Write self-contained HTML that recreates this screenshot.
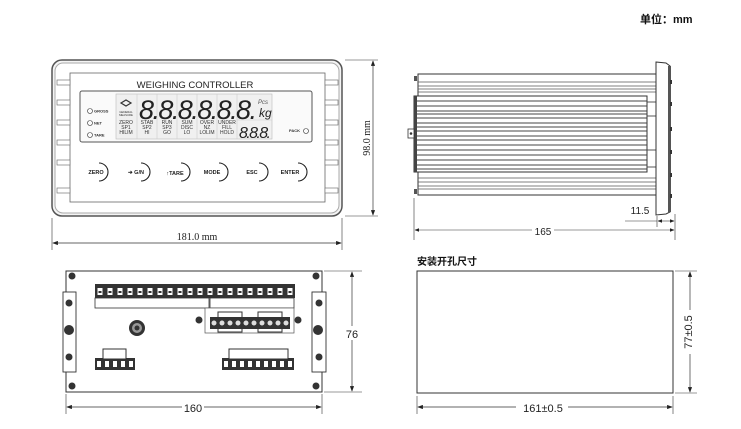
<!DOCTYPE html>
<html><head><meta charset="utf-8"><style>
html,body{margin:0;padding:0;background:#fff;}
svg{display:block;}
text{font-family:"Liberation Sans","Noto Sans CJK SC",sans-serif;}
</style></head><body>
<svg width="741" height="429" viewBox="0 0 741 429" xmlns="http://www.w3.org/2000/svg">
<defs>
<marker id="a" markerWidth="8" markerHeight="6" refX="7" refY="3" orient="auto-start-reverse"><path d="M0,0 L8,3 L0,6z" fill="#222"/></marker>
<pattern id="slot" x="95" y="284" width="10" height="14" patternUnits="userSpaceOnUse"><rect width="10" height="14" fill="#333"/><rect x="2.5" y="4" width="5" height="7" fill="#fff"/><rect x="3.5" y="7" width="3" height="2" fill="#333"/></pattern>
<pattern id="slot2" x="95" y="358" width="8" height="12" patternUnits="userSpaceOnUse"><rect width="8" height="12" fill="#333"/><rect x="2" y="3" width="4" height="6" fill="#fff"/></pattern>
<pattern id="slot3" x="222" y="358" width="8" height="12" patternUnits="userSpaceOnUse"><rect width="8" height="12" fill="#333"/><rect x="2" y="3" width="4" height="6" fill="#fff"/></pattern>
</defs>
<text x="640" y="23" font-size="11" font-weight="bold" fill="#111">单位：mm</text>

<!-- front panel -->
<rect x="52" y="60" width="290" height="156" rx="10" fill="#f4f4f4" stroke="#555" stroke-width="1.5"/>
<rect x="55" y="63" width="284" height="150" rx="8" fill="#fff" stroke="#aaa" stroke-width="1"/>
<rect x="70" y="73" width="255" height="129" fill="#fff" stroke="#666" stroke-width="0.8"/>
<g fill="#fff" stroke="#777" stroke-width="0.7">
<rect x="57" y="80" width="13" height="5"/><rect x="57" y="100" width="13" height="5"/><rect x="57" y="120" width="13" height="5"/><rect x="57" y="140" width="13" height="5"/><rect x="57" y="160" width="13" height="5"/><rect x="57" y="188" width="13" height="5"/>
<rect x="325" y="80" width="13" height="5"/><rect x="325" y="100" width="13" height="5"/><rect x="325" y="120" width="13" height="5"/><rect x="325" y="140" width="13" height="5"/><rect x="325" y="160" width="13" height="5"/><rect x="325" y="188" width="13" height="5"/>
</g>
<text x="195" y="88" font-size="9.5" text-anchor="middle" fill="#222">WEIGHING CONTROLLER</text>
<rect x="80" y="91" width="232" height="51" rx="2" fill="#fafafa" stroke="#555" stroke-width="1"/>
<rect x="116" y="94" width="156" height="45" fill="#f0f0f0" stroke="#bbb" stroke-width="0.6"/>
<g stroke="#ccc" stroke-width="0.6"><line x1="137" y1="94" x2="137" y2="139"/><line x1="157" y1="94" x2="157" y2="139"/><line x1="177" y1="94" x2="177" y2="139"/><line x1="197" y1="94" x2="197" y2="139"/><line x1="217" y1="94" x2="217" y2="139"/><line x1="237" y1="94" x2="237" y2="139"/><line x1="237" y1="120" x2="272" y2="120"/></g>
<g font-size="4" fill="#333" font-weight="bold">
<circle cx="90" cy="111" r="2.5" fill="none" stroke="#333" stroke-width="0.6"/><text x="94" y="112.5">GROSS</text>
<circle cx="90" cy="123" r="2.5" fill="none" stroke="#333" stroke-width="0.6"/><text x="94" y="124.5">NET</text>
<circle cx="90" cy="135" r="2.5" fill="none" stroke="#333" stroke-width="0.6"/><text x="94" y="136.5">TARE</text>
<text x="289" y="132">PACK</text><circle cx="306" cy="131" r="2.5" fill="none" stroke="#333" stroke-width="0.6"/>
</g>
<path d="M121,103 l5,-3 l5,3 l-5,3z" fill="none" stroke="#333" stroke-width="1.2"/>
<text x="126" y="113" font-size="2.8" text-anchor="middle" fill="#333">GENERAL</text><text x="126" y="116" font-size="2.8" text-anchor="middle" fill="#333">MEASURE</text>
<text x="139" y="119" font-size="27" font-style="italic" fill="#222" textLength="118" lengthAdjust="spacing">8.8.8.8.8.8.</text>
<text x="258" y="104" font-size="6" fill="#555" font-style="italic">Pcs</text>
<text x="259" y="117" font-size="12" fill="#222" font-style="italic">kg</text>
<text x="239" y="138" font-size="16" font-style="italic" fill="#222" textLength="32" lengthAdjust="spacing">8.8.8.</text>
<g font-size="5" text-anchor="middle" fill="#333">
<text x="126" y="124">ZERO</text><text x="126" y="129">SP1</text><text x="126" y="134">HILIM</text>
<text x="147" y="124">STAB</text><text x="147" y="129">SP2</text><text x="147" y="134">HI</text>
<text x="167" y="124">RUN</text><text x="167" y="129">SP3</text><text x="167" y="134">GO</text>
<text x="187" y="124">SUM</text><text x="187" y="129">DISC</text><text x="187" y="134">LO</text>
<text x="207" y="124">OVER</text><text x="207" y="129">NZ</text><text x="207" y="134">LOLIM</text>
<text x="227" y="124">UNDER</text><text x="227" y="129">FILL</text><text x="227" y="134">HOLD</text>
</g>
<g fill="none" stroke="#222" stroke-width="1.1">
<path d="M99,163 a9,9 0 0 1 0,18"/><path d="M141,163 a9,9 0 0 1 0,18"/><path d="M181,163 a9,9 0 0 1 0,18"/><path d="M219,163 a9,9 0 0 1 0,18"/><path d="M259,163 a9,9 0 0 1 0,18"/><path d="M298,163 a9,9 0 0 1 0,18"/>
</g>
<g font-size="5.5" font-weight="bold" fill="#222" text-anchor="middle">
<text x="96" y="174">ZERO</text><text x="136" y="174">➔ G/N</text><text x="175" y="175">↑TARE</text><text x="212" y="174">MODE</text><text x="252" y="174">ESC</text><text x="290" y="174">ENTER</text>
</g>
<!-- front dims -->
<line x1="345" y1="60" x2="378" y2="60" stroke="#333" stroke-width="0.6"/>
<line x1="345" y1="216" x2="378" y2="216" stroke="#333" stroke-width="0.6"/>
<line x1="373" y1="61" x2="373" y2="215" stroke="#333" stroke-width="0.7" marker-start="url(#a)" marker-end="url(#a)"/>
<text x="370" y="138" font-size="10" transform="rotate(-90 370 138)" text-anchor="middle" fill="#222" style="font-family:'Liberation Serif',serif">98.0 mm</text>
<line x1="52" y1="218" x2="52" y2="250" stroke="#333" stroke-width="0.6"/>
<line x1="342" y1="218" x2="342" y2="250" stroke="#333" stroke-width="0.6"/>
<line x1="53" y1="243" x2="341" y2="243" stroke="#333" stroke-width="0.7" marker-start="url(#a)" marker-end="url(#a)"/>
<text x="197" y="240" font-size="10" text-anchor="middle" fill="#222" style="font-family:'Liberation Serif',serif">181.0 mm</text>

<!-- side view -->
<rect x="418" y="74" width="239" height="121" fill="#fff" stroke="#333" stroke-width="1"/>
<g stroke="#555" stroke-width="0.8"><line x1="418" y1="82" x2="657" y2="82"/><line x1="418" y1="86" x2="657" y2="86"/><line x1="418" y1="89" x2="657" y2="89"/><line x1="418" y1="92" x2="657" y2="92"/><line x1="418" y1="178" x2="657" y2="178"/><line x1="418" y1="182" x2="657" y2="182"/><line x1="418" y1="186" x2="657" y2="186"/><line x1="418" y1="189" x2="657" y2="189"/></g>
<rect x="414" y="96" width="233" height="76" fill="#fff" stroke="#333" stroke-width="1"/>
<rect x="414" y="96" width="3" height="76" fill="#444"/>
<g stroke="#444" stroke-width="0.9">
<line x1="417" y1="101" x2="647" y2="101"/><line x1="417" y1="106" x2="647" y2="106"/><line x1="417" y1="111" x2="647" y2="111"/><line x1="417" y1="114" x2="647" y2="114"/><line x1="417" y1="118" x2="647" y2="118"/><line x1="417" y1="123" x2="647" y2="123"/><line x1="417" y1="127" x2="647" y2="127"/><line x1="417" y1="131" x2="647" y2="131"/><line x1="417" y1="136" x2="647" y2="136"/><line x1="417" y1="140" x2="647" y2="140"/><line x1="417" y1="145" x2="647" y2="145"/><line x1="417" y1="150" x2="647" y2="150"/><line x1="417" y1="155" x2="647" y2="155"/><line x1="417" y1="160" x2="647" y2="160"/><line x1="417" y1="165" x2="647" y2="165"/><line x1="417" y1="169" x2="647" y2="169"/>
<line x1="647" y1="102" x2="657" y2="102"/><line x1="647" y1="116" x2="657" y2="116"/><line x1="647" y1="150" x2="657" y2="150"/><line x1="647" y1="167" x2="657" y2="167"/>
</g>
<rect x="408" y="129" width="6" height="9" fill="#fff" stroke="#333" stroke-width="0.8"/><circle cx="411" cy="133.5" r="1.3" fill="#333"/>
<rect x="414" y="76" width="3" height="5" fill="#555"/><rect x="414" y="189" width="3" height="5" fill="#555"/>
<path d="M656,62 L666,63 L670,66 L670,212 L666,214 L656,215z" fill="#fff" stroke="#333" stroke-width="1"/>
<rect x="668" y="66" width="3" height="146" fill="#555"/>
<g fill="#333"><rect x="670" y="80" width="2" height="4"/><rect x="670" y="102" width="2" height="4"/><rect x="670" y="127" width="2" height="4"/><rect x="670" y="150" width="2" height="4"/><rect x="670" y="173" width="2" height="4"/><rect x="670" y="194" width="2" height="4"/></g>
<line x1="414" y1="198" x2="414" y2="240" stroke="#333" stroke-width="0.6"/>
<line x1="657" y1="216" x2="657" y2="227" stroke="#333" stroke-width="0.6"/>
<line x1="675" y1="214" x2="675" y2="240" stroke="#333" stroke-width="0.6"/>
<line x1="625" y1="221" x2="657" y2="221" stroke="#333" stroke-width="0.6"/>
<line x1="658" y1="221" x2="674" y2="221" stroke="#333" stroke-width="0.6" marker-start="url(#a)" marker-end="url(#a)"/>
<text x="640" y="214" font-size="10" text-anchor="middle" fill="#222">11.5</text>
<line x1="415" y1="230" x2="674" y2="230" stroke="#333" stroke-width="0.6" marker-start="url(#a)" marker-end="url(#a)"/>
<rect x="532" y="224" width="22" height="11" fill="#fff"/>
<text x="543" y="235" font-size="10" text-anchor="middle" fill="#222">165</text>

<!-- rear view -->
<rect x="66" y="271" width="256" height="121" fill="#fff" stroke="#333" stroke-width="1"/>
<rect x="63" y="292" width="13" height="80" fill="#fff" stroke="#333" stroke-width="0.9"/>
<rect x="312" y="292" width="14" height="80" fill="#fff" stroke="#333" stroke-width="0.9"/>
<g fill="#333"><circle cx="72" cy="276" r="3.5"/><circle cx="316" cy="276" r="3.5"/><circle cx="72" cy="386" r="3.5"/><circle cx="316" cy="386" r="3.5"/>
<circle cx="69" cy="303" r="3.5"/><circle cx="69" cy="357" r="3.5"/><circle cx="319" cy="303" r="3.5"/><circle cx="319" cy="357" r="3.5"/>
<circle cx="69" cy="330" r="5"/><circle cx="318" cy="330" r="5"/><circle cx="199" cy="320" r="3.5"/><circle cx="298" cy="320" r="3.5"/></g>
<rect x="95" y="284" width="200" height="14" fill="url(#slot)"/>
<rect x="95" y="298" width="114" height="10" fill="#fff" stroke="#333" stroke-width="0.8"/>
<rect x="210" y="298" width="84" height="10" fill="#fff" stroke="#333" stroke-width="0.8"/>
<rect x="205" y="308" width="89" height="25" fill="#fff" stroke="#555" stroke-width="0.7"/>
<rect x="210" y="317" width="80" height="12" fill="#333"/>
<rect x="218" y="312" width="24" height="20" fill="none" stroke="#333" stroke-width="1"/>
<rect x="258" y="312" width="24" height="20" fill="none" stroke="#333" stroke-width="1"/>
<g fill="#ddd"><circle cx="214" cy="323" r="2.5"/><circle cx="222" cy="323" r="2.5"/><circle cx="230" cy="323" r="2.5"/><circle cx="238" cy="323" r="2.5"/><circle cx="246" cy="323" r="2.5"/><circle cx="254" cy="323" r="2.5"/><circle cx="262" cy="323" r="2.5"/><circle cx="270" cy="323" r="2.5"/><circle cx="278" cy="323" r="2.5"/><circle cx="286" cy="323" r="2.5"/></g>
<circle cx="137" cy="328" r="8" fill="#333"/><circle cx="137" cy="328" r="5" fill="#999"/><circle cx="137" cy="328" r="2.5" fill="#333"/>
<rect x="95" y="358" width="40" height="12" fill="url(#slot2)"/>
<rect x="103" y="349" width="23" height="10" fill="#fff" stroke="#333" stroke-width="1"/>
<rect x="222" y="358" width="72" height="12" fill="url(#slot3)"/>
<rect x="229" y="349" width="59" height="10" fill="#fff" stroke="#333" stroke-width="1"/>
<line x1="324" y1="271" x2="362" y2="271" stroke="#333" stroke-width="0.6"/>
<line x1="324" y1="392" x2="362" y2="392" stroke="#333" stroke-width="0.6"/>
<line x1="352" y1="272" x2="352" y2="391" stroke="#333" stroke-width="0.7" marker-start="url(#a)" marker-end="url(#a)"/>
<rect x="342" y="326" width="20" height="14" fill="#fff"/>
<text x="352" y="338" font-size="11" text-anchor="middle" fill="#222">76</text>
<line x1="66" y1="394" x2="66" y2="414" stroke="#333" stroke-width="0.6"/>
<line x1="322" y1="394" x2="322" y2="414" stroke="#333" stroke-width="0.6"/>
<line x1="67" y1="407" x2="321" y2="407" stroke="#333" stroke-width="0.7" marker-start="url(#a)" marker-end="url(#a)"/>
<rect x="182" y="401" width="22" height="12" fill="#fff"/>
<text x="193" y="412" font-size="11" text-anchor="middle" fill="#222">160</text>

<!-- cutout -->
<text x="417" y="265" font-size="10" font-weight="bold" fill="#111">安装开孔尺寸</text>
<rect x="417" y="271" width="256" height="122" fill="#fff" stroke="#333" stroke-width="1"/>
<line x1="675" y1="271" x2="697" y2="271" stroke="#333" stroke-width="0.6"/>
<line x1="675" y1="393" x2="697" y2="393" stroke="#333" stroke-width="0.6"/>
<line x1="690" y1="272" x2="690" y2="392" stroke="#333" stroke-width="0.7" marker-start="url(#a)" marker-end="url(#a)"/>
<rect x="682" y="310" width="14" height="44" fill="#fff"/>
<text x="692" y="332" font-size="11" text-anchor="middle" fill="#222" transform="rotate(-90 692 332)">77±0.5</text>
<line x1="417" y1="396" x2="417" y2="414" stroke="#333" stroke-width="0.6"/>
<line x1="673" y1="396" x2="673" y2="414" stroke="#333" stroke-width="0.6"/>
<line x1="418" y1="407" x2="672" y2="407" stroke="#333" stroke-width="0.7" marker-start="url(#a)" marker-end="url(#a)"/>
<rect x="516" y="401" width="52" height="12" fill="#fff"/>
<text x="543" y="412" font-size="11" text-anchor="middle" fill="#222">161±0.5</text>
</svg>
</body></html>
